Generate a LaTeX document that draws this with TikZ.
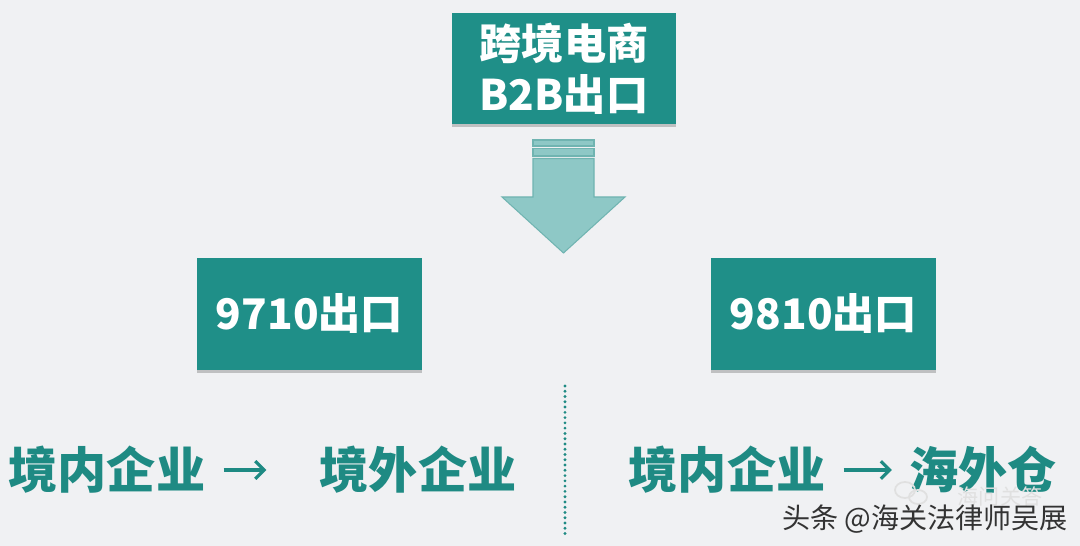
\documentclass[tikz,border=0pt]{standalone}
\usepackage{fontspec}
\setmainfont{Noto Sans CJK SC}
\usetikzlibrary{arrows.meta,shadows}
\definecolor{boxteal}{RGB}{31,143,136}
\definecolor{textteal}{RGB}{30,138,131}
\definecolor{arrowfill}{RGB}{142,200,198}
\definecolor{arrowline}{RGB}{112,180,177}
\definecolor{bggrey}{RGB}{240,241,243}

\begin{document}
\begin{tikzpicture}[x=0.02cm, y=-0.02cm,
  exportbox/.style={fill=boxteal, text=white, align=center, inner sep=0pt,
    minimum width=4.5cm, minimum height=2.24cm,
    font=\bfseries\fontsize{24}{29}\selectfont,
    drop shadow={shadow xshift=0pt, shadow yshift=-1.5pt, opacity=0.35, fill=black!60}},
  flowtext/.style={text=textteal, inner sep=0pt, font=\bfseries\fontsize{28}{32}\selectfont},
  flowarrow/.style={draw=textteal, line width=1.8pt, -{Straight Barb[length=5pt,width=10pt]}}]
  % Background
  \fill[bggrey] (0,0) rectangle (1080,546);
  \useasboundingbox (0,0) rectangle (1080,546);

  % Boxes
  \node[exportbox] (b2b) at (564,68.5) {跨境电商\\B2B出口};
  \node[exportbox] (e9710) at (309.5,314) {9710出口};
  \node[exportbox] (e9810) at (823.5,314) {9810出口};

  % Block arrow
  \filldraw[fill=arrowfill, draw=arrowline, line width=0.6pt] (533,140) rectangle (594,146);
  \filldraw[fill=arrowfill, draw=arrowline, line width=0.6pt] (533,148.5) rectangle (594,156);
  \filldraw[fill=arrowfill, draw=arrowline, line width=0.6pt]
    (533,158.5) -- (594,158.5) -- (594,197) -- (625,197) -- (563.5,253)
    -- (502,197) -- (533,197) -- cycle;

  % Divider
  \draw[textteal, line width=1.8pt, line cap=round, dash pattern=on 0pt off 3pt] (565,386) -- (565,535);

  % Flows
  \node[flowtext] (home1) at (107,470) {境内企业};
  \node[flowtext] (abroad) at (418,470) {境外企业};
  \node[flowtext] (home2) at (727,470) {境内企业};
  \node[flowtext] (depot) at (983,470) {海外仓};
  \draw[flowarrow, shorten <=0.36cm, shorten >=1.06cm] (home1.east) -- (abroad.west);
  \draw[flowarrow, shorten <=0.36cm, shorten >=0.34cm] (home2.east) -- (depot.west);

  % Watermarks
  \node[text=black!12, inner sep=0pt, font=\fontsize{12}{14}\selectfont] (wmark) at (1000,496) {海问关答};
  \draw[black!12, line width=1pt] (905,490) ellipse (10 and 8);
  \draw[black!12, line width=1pt] (918,497) ellipse (9 and 7);
  \node[text=black!80, font=\fontsize{16}{18}\selectfont, inner sep=0pt] (tag) at (925,519) {头条 @海关法律师吴展};
\end{tikzpicture}
\end{document}
